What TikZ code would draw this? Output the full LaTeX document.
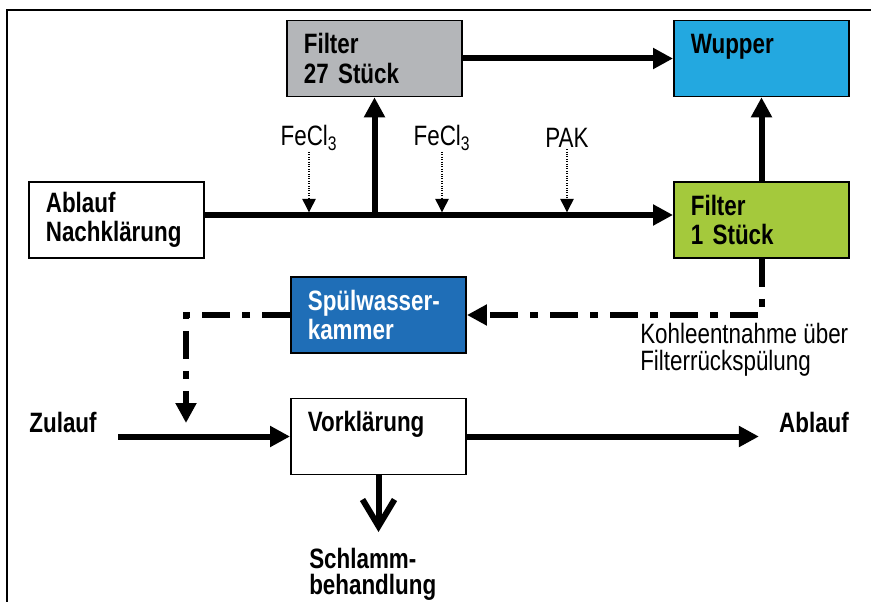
\documentclass[tikz,border=0pt]{standalone}
\usepackage{fontspec}
\setmainfont{Liberation Sans}[FakeStretch=0.8]
\usepackage{xcolor}
\usepackage{tikz}
\usetikzlibrary{arrows.meta,calc}

\definecolor{filtergray}{HTML}{B4B6B9}
\definecolor{wupperblue}{HTML}{23A8E0}
\definecolor{filtergreen}{HTML}{A4C93C}
\definecolor{kammerblue}{HTML}{1F6EB7}
\newcommand{\diafont}{\fontsize{21}{22}\selectfont}

\tikzset{
  block/.style={draw, line width=1.2pt, text width=106pt, align=left, inner xsep=12.75pt,
    minimum height=57pt, font=\diafont\bfseries},
  flow/.style={line width=4.5pt, -{Triangle[length=15pt,width=15pt]}},
  dose/.style={line width=0.8pt, densely dotted, -{Triangle[length=10pt,width=10pt]}, shorten >=2pt},
  back/.style={line width=4.5pt, dash pattern=on 21pt off 9pt on 6pt off 9pt, -{Triangle[length=15pt,width=15pt]}},
}

\begin{document}
\begin{tikzpicture}[x=0.75pt,y=-0.75pt]
        \useasboundingbox (0,0) rectangle (871,602);
        \draw[line width=1.5pt] (871,10) -- (7,10) -- (7,602);

        \node[block, fill=filtergray] (f27) at (374.5,58.5) {Filter\\27 Stück};
        \node[block, fill=wupperblue] (wupper) at (761.5,58.5) {Wupper\\~};
        \node[block] (nach) at (116.5,220) {Ablauf\\Nachklärung};
        \node[block, fill=filtergreen] (f1) at (761.5,220) {Filter\\1 Stück};
        \node[block, fill=kammerblue, text=white] (spuel) at (378.5,315) {Spülwasser-\\kammer};
        \node[block] (vork) at (378.5,436.5) {Vorklärung\\~};

        \node[font=\diafont, inner sep=1pt] (fe1) at (309,138) {FeCl\textsubscript{3}};
        \node[font=\diafont, inner sep=1pt] (fe2) at (442,138) {FeCl\textsubscript{3}};
        \node[font=\diafont, inner sep=1pt] (pak) at (567,138) {PAK};

        \node[font=\diafont\bfseries, inner xsep=16pt] (zulauf) at (63,422) {Zulauf};
        \node[font=\diafont\bfseries, inner xsep=15pt] (ablauf) at (814,422) {Ablauf};
        \node[font=\fontsize{21}{19.5}\selectfont\bfseries, align=left, inner xsep=0pt, inner ysep=12pt, anchor=north west] (schlamm) at (309,532) {Schlamm-\\behandlung};
        \node[font=\fontsize{21}{20}\selectfont, align=left, inner sep=0pt, anchor=north west] (kohle) at (640,323) {Kohleentnahme über\\Filterrückspülung};

        \coordinate (main) at ([yshift=3.75pt]nach.east);
        \coordinate (drop) at (186,423);

        % Hauptstrom
        \draw[flow] (main) -- (f1.west |- main);
        \draw[flow] (f27.south |- main) -- (f27.south);
        \draw[flow] (f27.east) -- (wupper.west);
        \draw[flow] (f1.north) -- (wupper.south);

        % Dosierung
        \draw[dose] (fe1.south) -- (fe1.south |- main);
        \draw[dose] (fe2.south) -- (fe2.south |- main);
        \draw[dose] (pak.south) -- (pak.south |- main);

        % Rueckspuelung
        \draw[back] (f1.south) |- (spuel.east);
        \draw[back] (spuel.west) -| (drop);

        % Vorklaerung
        \draw[flow] (zulauf.east |- vork.west) -- (vork.west);
        \draw[flow] (vork.east) -- (ablauf.west |- vork.east);
        \draw[line width=4.5pt, -{Straight Barb[length=20pt,width=24pt]}] (vork.south) -- (vork.south |- schlamm.north);
    \end{tikzpicture}
\end{document}
